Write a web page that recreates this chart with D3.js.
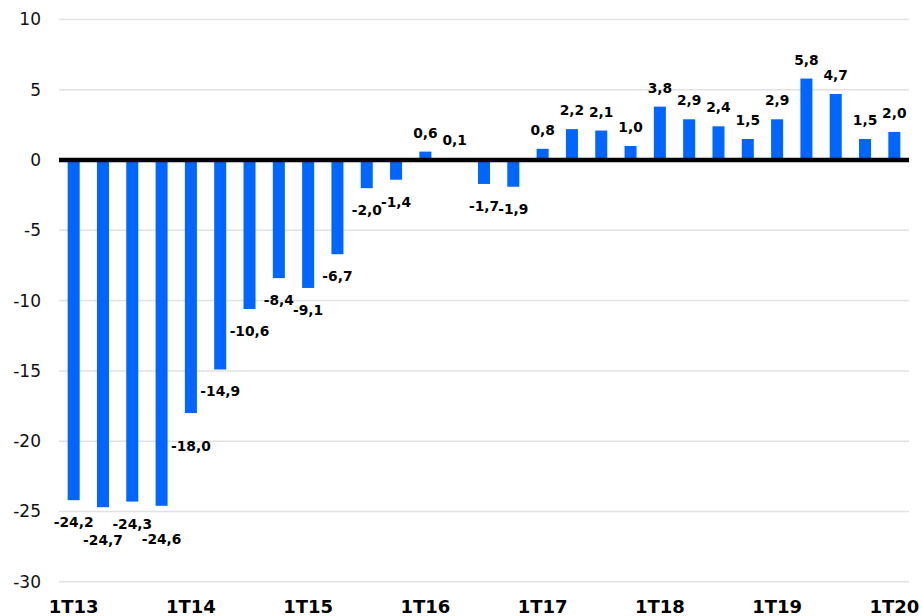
<!DOCTYPE html>
<html lang="pt">
<head>
  <meta charset="UTF-8">
  <title>Chart</title>
  <style>
    body { margin: 0; background: #fff; }
  </style>
</head>
<body>
<div id="output"></div>
<script src="https://d3js.org/d3.v7.min.js"></script>
<script type="text/javascript">
  // quarters 1T13 .. 1T20
  const quarters = [
    "1T13", "2T13", "3T13", "4T13",
    "1T14", "2T14", "3T14", "4T14",
    "1T15", "2T15", "3T15", "4T15",
    "1T16", "2T16", "3T16", "4T16",
    "1T17", "2T17", "3T17", "4T17",
    "1T18", "2T18", "3T18", "4T18",
    "1T19", "2T19", "3T19", "4T19",
    "1T20"
  ];
  const values = [
    -24.2, -24.7, -24.3, -24.6,
    -18.0, -14.9, -10.6, -8.4,
    -9.1, -6.7, -2.0, -1.4,
    0.6, 0.1, -1.7, -1.9,
    0.8, 2.2, 2.1, 1.0,
    3.8, 2.9, 2.4, 1.5,
    2.9, 5.8, 4.7, 1.5,
    2.0
  ];
  const yTicks = [10, 5, 0, -5, -10, -15, -20, -25, -30];
  const xTickLabels = ["1T13", "1T14", "1T15", "1T16", "1T17", "1T18", "1T19", "1T20"];

  const W = 922, H = 616;
  const plotL = 59, plotR = 909, plotT = 19.5, plotB = 581.7;

  const svg = d3.select("#output").append("svg")
    .attr("width", W).attr("height", H)
    .style("font-family", "'DejaVu Sans', Verdana, sans-serif");

  const x = d3.scaleBand().domain(quarters).range([plotL, plotR]).paddingInner(0.59).paddingOuter(0.295);
  const y = d3.scaleLinear().domain([-30, 10]).range([plotB, plotT]);

  // gridlines
  svg.append("g").selectAll("line")
    .data(yTicks.filter(d => d !== 0))
    .join("line")
    .attr("x1", plotL).attr("x2", plotR)
    .attr("y1", d => y(d)).attr("y2", d => y(d))
    .style("stroke", "#e2e2e2")
    .style("stroke-width", 1.5);

  // y axis labels
  const yAxis = d3.axisLeft(y).tickValues(yTicks).tickSize(0).tickPadding(0)
    .tickFormat(d => d);
  svg.append("g")
    .attr("transform", `translate(${plotL - 18},0)`)
    .call(yAxis)
    .call(g => g.select(".domain").remove())
    .call(g => g.selectAll("text")
      .style("font-size", "17px")
      .style("font-family", "'DejaVu Sans', Verdana, sans-serif")
      .style("fill", "#111"));

  // bars
  svg.append("g").selectAll("rect")
    .data(values)
    .join("rect")
    .attr("x", (d, i) => x(quarters[i]))
    .attr("width", x.bandwidth())
    .attr("y", d => y(Math.max(0, d)))
    .attr("height", d => Math.abs(y(d) - y(0)))
    .style("fill", "#0066ff");

  // zero line
  svg.append("line")
    .attr("x1", plotL).attr("x2", plotR)
    .attr("y1", y(0)).attr("y2", y(0))
    .style("stroke", "#000")
    .style("stroke-width", 4.5);

  // data labels (some negative ones sit lower, as in the original)
  const lowered = new Set([1, 3, 4]);
  svg.append("g").selectAll("text")
    .data(values)
    .join("text")
    .attr("x", (d, i) => x(quarters[i]) + x.bandwidth() / 2)
    .attr("y", (d, i) => d >= 0 ? y(d) - 14 : y(d) + (lowered.has(i) ? 38 : 27))
    .attr("text-anchor", "middle")
    .style("font-size", "13.8px")
    .style("font-weight", "bold")
    .style("fill", "#000")
    .text(d => d3.format(".1f")(d).replace(".", ",").replace("−", "-"));

  // x axis labels
  svg.append("g").selectAll("text")
    .data(xTickLabels)
    .join("text")
    .attr("x", d => x(d) + x.bandwidth() / 2)
    .attr("y", 613)
    .attr("text-anchor", "middle")
    .style("font-size", "18px")
    .style("font-weight", "bold")
    .style("fill", "#000")
    .text(d => d);
</script>
</body>
</html>
